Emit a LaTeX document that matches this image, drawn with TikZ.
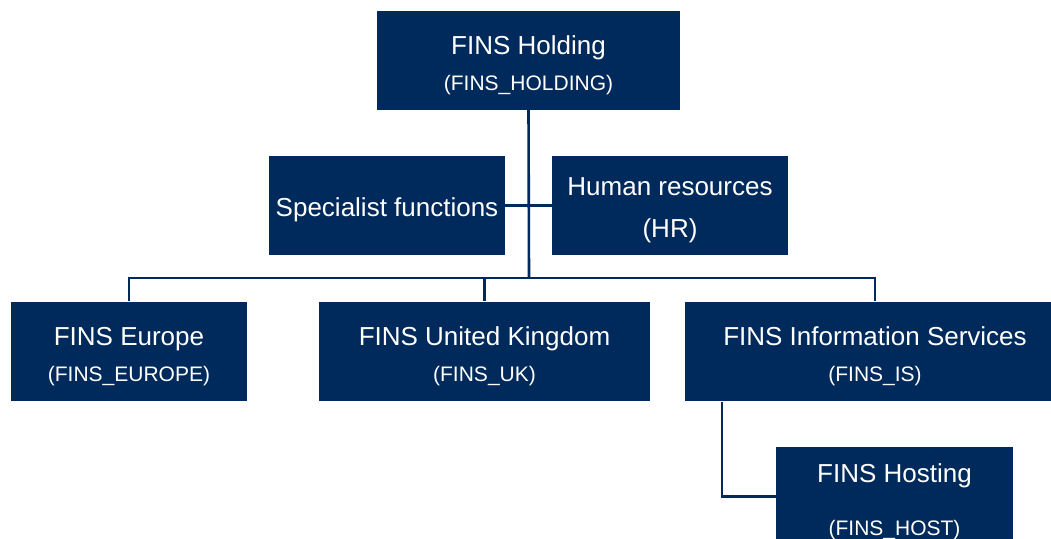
\documentclass[tikz,border=0pt]{standalone}
\usepackage{fontspec}
\setmainfont{Liberation Sans}
\definecolor{finsblue}{RGB}{0,42,91}

\tikzset{
    unit/.style={rectangle, fill=finsblue, text=white, inner sep=0pt,
        minimum height=99pt, align=center, font=\fontsize{26}{31}\selectfont},
    link/.style={draw=finsblue, line width=2.6pt}
}
\newcommand{\unitstrut}{\rule{0pt}{29pt}}
\newcommand{\code}[1]{{\fontsize{21}{25}\selectfont #1}}

\begin{document}
\begin{tikzpicture}[x=1pt,y=-1pt]
    \useasboundingbox (0,0) rectangle (1051,538);
    \clip (0,0) rectangle (1051,538);

    % Top of the group
    \node[unit, minimum width=303pt] (hold) at (528.5,60.5) {\unitstrut FINS Holding\\[5pt]\code{(FINS\_HOLDING)}};

    % Staff units beside the main line
    \node[unit, minimum width=236pt] (spec) at (387,205.5) {\rule{0pt}{28pt}Specialist functions};
    \node[unit, minimum width=236pt] (hr) at (670,205.5) {\rule{0pt}{28pt}Human resources\\[11pt](HR)};

    % Subsidiaries
    \node[unit, minimum width=236pt] (eu) at (129,351) {\unitstrut FINS Europe\\[5pt]\code{(FINS\_EUROPE)}};
    \node[unit, minimum width=331pt] (uk) at (484.5,351) {\unitstrut FINS United Kingdom\\[5pt]\code{(FINS\_UK)}};
    \node[unit, minimum width=380pt] (is) at (875,351) {\unitstrut FINS Information Services\\[5pt]\code{(FINS\_IS)}};
    \node[unit, minimum width=237pt] (host) at (894.5,496.5) {\unitstrut FINS Hosting\\[22pt]\code{(FINS\_HOST)}};

    \coordinate (bus) at (529,278);
    \coordinate (isdrop) at (722,402);

    % Connectors
    \draw[link] (hold.south) -- (bus);
    \draw[link] (spec.east) -- (hr.west);
    \draw[link] (eu.north) |- (bus) -| (is.north);
    \draw[link] (uk.north) -- (uk.north |- bus);
    \draw[link] (isdrop) |- (host.west);
\end{tikzpicture}
\end{document}
